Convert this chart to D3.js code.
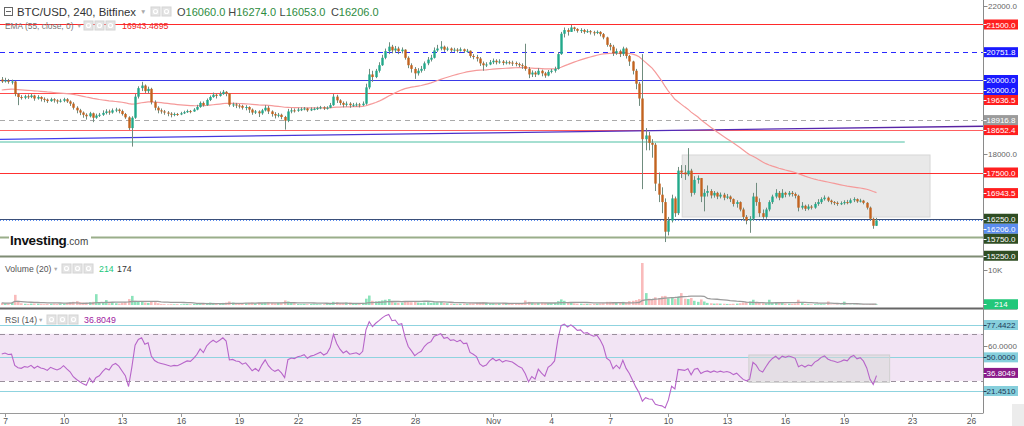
<!DOCTYPE html>
<html><head><meta charset="utf-8">
<script src="https://cdn.jsdelivr.net/npm/d3@7"></script>
<style>body{margin:0;background:#fff;overflow:hidden}svg{display:block;font-family:"Liberation Sans",Arial,sans-serif}</style>
</head><body><svg id="c" width="1024" height="426"></svg>
<script>
// ---------------- DATA ----------------
const firstCandle = "2022-10-06T20:00:00Z";   // 4h candles
const firstOpen = 20010;
const closes = [19960,
19990,19950,19960,19620,19540,19520, 19560,19540,19580,19500,19540,19490, 19470,19430,19480,19450,19420,19440,
19480,19420,19360,19250,19180,19120, 19060,19020,19100,18980,19040,19060, 19110,19150,19120,19180,19200,19160,
19080,18990,18700,18980,19550,19780, 19850,19700,19760,19400,19250,19180, 19150,19120,19090,19060,19080,19070,
19100,19130,19160,19150,19200,19270, 19380,19320,19460,19540,19600,19570, 19620,19680,19640,19330,19340,19310,
19300,19250,19270,19200,19120,19150, 19100,19180,19250,19150,19080,19040, 19060,19000,18900,19150,19180,19170,
19200,19210,19230,19180,19210,19220, 19240,19260,19230,19250,19320,19550, 19450,19380,19330,19360,19320,19330,
19340,19320,19360,19800,20150,20080, 20250,20400,20600,20780,20900,20800, 20850,20780,20820,20600,20400,20300,
20180,20250,20300,20450,20550,20600, 20800,20850,20900,20820,20850,20800, 20820,20790,20830,20780,20790,20650,
20620,20580,20450,20400,20420,20480, 20520,20480,20500,20460,20480,20470, 20460,20430,20400,20380,20300,20150,
20200,20150,20250,20180,20120,20220, 20250,20300,20700,21250,21350,21300, 21420,21380,21330,21350,21300,21320,
21290,21270,21300,21240,21150,20950, 20900,20720,20780,20700,20850,20650, 20500,20250,19900,19500,18400,18500,
18300,18250,17200,16900,16700,15900, 16200,16800,16400,17550,17500,17450, 17550,16950,17300,17350,16850,16950,
17000,16880,16950,16850,16900,16820, 16850,16780,16650,16700,16500,16300, 16200,16250,16850,16700,16400,16300,
16500,16700,16850,16950,16820,16950, 16900,16950,16920,16870,16550,16600, 16520,16580,16550,16650,16700,16780,
16820,16740,16700,16680,16650,16670, 16700,16680,16750,16780,16720,16740, 16680,16550,16250,16060,16206];
const highs = [20080,
20060,20030,20010,19980,19650,19590, 19600,19610,19620,19600,19590,19560, 19530,19500,19520,19510,19480,19490,
19520,19510,19450,19400,19290,19220, 19150,19100,19140,19120,19090,19110, 19180,19210,19200,19230,19250,19230,
19200,19110,19020,19020,19620,19830, 19950,19880,19820,19790,19450,19290, 19230,19190,19160,19130,19120,19110,
19140,19170,19200,19190,19240,19330, 19420,19420,19500,19580,19660,19640, 19690,19730,19700,19650,19390,19380,
19350,19330,19320,19290,19230,19190, 19180,19220,19320,19300,19180,19130, 19110,19090,19030,19220,19240,19230,
19250,19260,19270,19250,19260,19260, 19280,19300,19290,19290,19380,19620, 19600,19480,19420,19420,19400,19380,
19390,19380,19420,19900,20300,20250, 20300,20480,20680,20850,21020,20950, 20920,20900,20880,20830,20640,20450,
20350,20320,20380,20500,20620,20680, 20880,20950,21050,20930,20900,20880, 20870,20860,20880,20850,20840,20800,
20700,20680,20620,20500,20480,20540, 20580,20560,20560,20540,20530,20520, 20520,20500,20470,20450,20980,20350,
20260,20240,20320,20280,20220,20270, 20300,20360,20750,21300,21420,21400, 21490,21440,21400,21400,21380,21370,
21350,21330,21340,21320,21270,21170, 21000,20950,20850,20820,20900,20880, 20680,20520,20300,19950,20700,18700,
18600,18400,18300,17500,17100,16800, 16300,16900,16850,17650,17700,17700, 18160,17600,17400,17420,17350,17050,
17150,17050,17000,16980,16960,16950, 16920,16880,16800,16750,16720,16550, 16350,16320,16950,17220,16800,16500,
16550,16750,16900,17050,17000,17050, 16980,17000,17000,16960,16900,16700, 16630,16640,16620,16700,16780,16830,
16880,16850,16770,16730,16720,16720, 16750,16760,16800,16830,16800,16790, 16760,16700,16580,16280,16274];
const lows = [19920,
19930,19900,19880,19560,19320,19470, 19480,19490,19510,19440,19470,19420, 19400,19380,19410,19390,19360,19390,
19400,19380,19300,19200,19100,19050, 18980,18930,18990,18860,18950,19000, 19030,19070,19060,19090,19130,19100,
19040,18950,18650,18200,18950,19500, 19700,19650,19640,19340,19180,19100, 19090,19060,19020,18990,19020,19030,
19050,19080,19110,19100,19140,19180, 19250,19280,19300,19430,19520,19500, 19550,19600,19560,19280,19270,19240,
19230,19200,19180,19110,19060,19080, 19000,19060,19150,19080,19010,18960, 18990,18940,18660,18860,19100,19120,
19140,19160,19180,19140,19160,19180, 19190,19210,19190,19200,19240,19300, 19380,19320,19260,19280,19250,19270,
19280,19260,19300,19330,19750,19950, 20050,20200,20380,20560,20700,20720, 20730,20700,20720,20550,20320,20200,
20030,20120,20200,20250,20400,20500, 20580,20760,20800,20760,20780,20740, 20760,20740,20770,20730,20740,20600,
20560,20500,20380,20250,20350,20400, 20430,20420,20440,20400,20420,20420, 20380,20370,20350,20300,20250,20050,
20080,20080,20130,20100,20060,20100, 20180,20200,20280,20680,21150,21200, 21300,21320,21280,21270,21250,21270,
21230,21200,21240,21180,21100,20900, 20800,20650,20680,20620,20650,20580, 20380,20150,19750,19300,17050,18100,
18100,17900,17000,16700,16400,15620, 15800,16150,16300,16350,17350,17300, 17400,16850,16900,17200,16700,16450,
16850,16800,16820,16780,16800,16750, 16780,16700,16580,16550,16450,16200, 16100,15870,16200,16600,16300,16250,
16250,16450,16650,16800,16750,16800, 16830,16850,16850,16800,16450,16500, 16460,16480,16500,16520,16600,16650,
16740,16700,16640,16620,16600,16620, 16630,16640,16660,16700,16680,16690, 16640,16500,16200,15980,16053];
const volumes = [600,
500,450,600,2900,1200,500, 350,300,400,450,350,300, 250,300,350,400,300,350,
400,600,700,900,1100,800, 700,600,800,900,3100,700, 600,1400,500,600,500,400,
600,800,1700,2600,1200,900, 1100,700,600,900,800,500, 300,250,200,250,200,250,
200,250,300,250,300,400, 500,450,600,700,600,500, 500,600,700,1000,700,500,
400,400,500,600,700,500, 600,500,700,800,600,500, 600,700,1300,1000,700,500,
300,250,300,250,300,250, 250,200,250,300,400,900, 800,600,600,700,700,500,
500,400,600,1800,2700,1200, 1000,1100,1300,1500,1700,900, 700,600,700,900,1100,800,
900,700,600,700,800,600, 700,800,900,600,500,400, 300,300,350,400,350,500,
500,600,700,800,600,500, 500,400,500,600,500,400, 400,350,400,500,1300,900,
700,500,600,700,600,500, 500,600,1100,1600,1200,700, 800,500,400,400,350,300,
300,300,350,400,500,900, 900,800,600,700,900,700, 1100,1200,1400,1700,12000,3400,
1800,1500,2200,2000,2500,2600, 1900,2100,1700,2400,3400,1800, 1700,2000,1200,900,1600,1000,
600,500,400,450,400,350, 300,300,350,400,500,700, 800,1000,1500,900,600,500,
500,1500,700,600,500,800, 400,350,300,400,1500,600, 300,250,200,250,200,250,
200,1000,150,120,150,130, 950,120,100,120,100,120, 150,130,250,300,214];
const emaSeed = 19730;            // EMA(55) value at first candle
const rsiSeed = [74, 66];          // Wilder avg gain / avg loss at first candle
const emaLast = "16943.4895", rsiLast = 36.8049, volLast = "214", volMaLast = "174";
const ohlcText = ["16060.0", "16274.0", "16053.0", "16206.0"];

// horizontal levels drawn on the price pane
const levelPrices = [21500, 20751.8, 20000, 19636.5, 18916.8, 18652.4, 17500, 16250, 16206, 15750, 15250];
// extra price labels (second 20000 marker, ema)
const extraLabelPrices = [20000, 16943.5];
const priceTicks = [22000, 21000, 20000, 19000, 18000, 17000, 16000];
// sloped trend line anchors
const trendDates = ["2022-10-10T00:00:00Z", "2022-11-19T00:00:00Z"];
const trendPrices = [18419, 18700];
const tealLine = {price: 18324, end: "2022-11-22T12:00:00Z"};
const boxDates = ["2022-11-10T17:00:00Z", "2022-11-23T22:00:00Z"];
const boxPrices = [16297, 17973];
const rsiBoxDates = ["2022-11-14T03:00:00Z", "2022-11-21T11:00:00Z"];
const rsiBoxValues = [28.8, 52];
const rsiLevels = [77.4422, 50, 21.451];
const rsiBand = [30, 70];
const rsiTicks = [80, 60, 40, 20];
const volTicks = [10000];
const xTickDates = ["2022-10-07","2022-10-10","2022-10-13","2022-10-16","2022-10-19","2022-10-22","2022-10-25","2022-10-28",
  "2022-11-01","2022-11-04","2022-11-07","2022-11-10","2022-11-13","2022-11-16","2022-11-19","2022-11-23","2022-11-26"];
const xTickLabels = ["7","10","13","16","19","22","25","28","Nov","4","7","10","13","16","19","23","26"];

// ---------------- DERIVED ----------------
const t0 = new Date(firstCandle).getTime(), H4 = 4*3600*1000;
const candles = closes.map((c,i)=>{
  const o = i===0 ? firstOpen : closes[i-1];
  return {t:new Date(t0+i*H4), o, c, h:Math.max(highs[i],o,c), l:Math.min(lows[i],o,c), v:volumes[i]};
});
const k = 2/56; let e = emaSeed;
const ema = candles.map((d,i)=>{ if(i>0) e = e + k*(d.c-e); return e; });
let ag = rsiSeed[0], al = rsiSeed[1];
const rsi = candles.map((d,i)=>{ if(i>0){const ch=d.c-closes[i-1]; ag=(ag*13+Math.max(ch,0))/14; al=(al*13+Math.max(-ch,0))/14;} return 100-100/(1+ag/al); });
const volMa = volumes.map((v,i)=> d3.mean(volumes.slice(Math.max(0,i-19), i+1)));

// ---------------- SCALES ----------------
const D = s => new Date(s);
const x = d3.scaleUtc()
  .domain([D("2022-10-07T00:00:00Z"), D("2022-11-21T00:00:00Z"), D("2022-11-23T00:00:00Z"), D("2022-11-26T00:00:00Z")])
  .range([5, 883, 912, 971]);
const y = d3.scaleLinear().domain([18000, 21000]).range([154, 43]);
const yv = d3.scaleLinear().domain([0, 10000]).range([305, 270]);
const yr = d3.scaleLinear().domain([21.451, 77.4422]).range([391, 325]);
const AX = 983.5;

const svg = d3.select("#c");
const defs = svg.append("defs");
defs.append("clipPath").attr("id","cp").append("rect").attr("x",0).attr("y",0).attr("width",983).attr("height",255);
defs.append("clipPath").attr("id","cv").append("rect").attr("x",0).attr("y",258).attr("width",983).attr("height",49);
defs.append("clipPath").attr("id","cr").append("rect").attr("x",0).attr("y",310).attr("width",983).attr("height",103);

// ---------------- PRICE PANE ----------------
const gp = svg.append("g").attr("clip-path","url(#cp)");
gp.append("rect").attr("x",x(D(boxDates[0]))).attr("width",x(D(boxDates[1]))-x(D(boxDates[0])))
  .attr("y",y(boxPrices[1])).attr("height",y(boxPrices[0])-y(boxPrices[1]))
  .attr("fill","#e3e3e3").attr("fill-opacity",0.8).attr("stroke","#d6d6d6");

const levelStyle = [
  {c:"#ff2a2a",w:1,d:null},{c:"#2a2aff",w:1,d:"5,4"},{c:"#3a3ae8",w:1,d:null},{c:"#ff4a4a",w:1,d:null},
  {c:"#aaaaaa",w:1,d:"5,4"},{c:"#ff6060",w:1.2,d:null},{c:"#ff3030",w:1,d:null},{c:"#3a4f7a",w:1,d:null},
  {c:"#5b8def",w:1,d:"1,2"},{c:"#9aae8a",w:2,d:null},{c:"#56704a",w:1,d:null}];
levelPrices.forEach((p,i)=>{
  const s=levelStyle[i];
  gp.append("line").attr("x1",0).attr("x2",AX).attr("y1",Math.round(y(p))+0.5).attr("y2",Math.round(y(p))+0.5)
    .attr("stroke",s.c).attr("stroke-width",s.w).attr("stroke-dasharray",s.d);
});
gp.append("line").attr("x1",0).attr("x2",x(D(tealLine.end))).attr("y1",y(tealLine.price)).attr("y2",y(tealLine.price))
  .attr("stroke","#4dbfa3").attr("stroke-width",1);
{
  const xa=x(D(trendDates[0])), xb=x(D(trendDates[1])), ya=y(trendPrices[0]), yb=y(trendPrices[1]);
  const sl=(yb-ya)/(xb-xa);
  const grad = defs.append("linearGradient").attr("id","tg").attr("x1","0%").attr("x2","100%");
  grad.append("stop").attr("offset","0%").attr("stop-color","#3f3ff0");
  grad.append("stop").attr("offset","100%").attr("stop-color","#5a22a0");
  gp.append("line").attr("x1",0).attr("y1",ya-sl*xa).attr("x2",AX).attr("y2",ya+sl*(AX-xa))
    .attr("stroke","url(#tg)").attr("stroke-width",1.3);
}
gp.append("path").datum(candles).attr("fill","none").attr("stroke","#f59a9a").attr("stroke-width",1.2)
  .attr("d", d3.line().x(d=>x(d.t)).y((d,i)=>y(ema[i])));
const up="#22a98a", dn="#c2631f";
const cg = gp.append("g");
cg.selectAll("line").data(candles).join("line")
  .attr("x1",d=>Math.round(x(d.t))+0.5).attr("x2",d=>Math.round(x(d.t))+0.5)
  .attr("y1",d=>y(d.h)).attr("y2",d=>y(d.l)).attr("stroke","#6f8c7e").attr("stroke-width",1);
cg.selectAll("rect").data(candles).join("rect")
  .attr("x",d=>Math.round(x(d.t))-0.7).attr("width",2.4)
  .attr("y",d=>y(Math.max(d.o,d.c))).attr("height",d=>Math.max(1,Math.abs(y(d.o)-y(d.c))))
  .attr("fill",d=>d.c>=d.o?up:dn);

svg.append("rect").attr("x",9).attr("y",232).attr("width",82).attr("height",15).attr("fill","#fff");
const logo = svg.append("text").attr("x",10).attr("y",245);
logo.append("tspan").text("Investing").attr("font-size",13.5).attr("font-weight","bold").attr("fill","#111").attr("letter-spacing","-0.3");
logo.append("tspan").text(".com").attr("font-size",10).attr("fill","#444");

// ---------------- VOLUME PANE ----------------
const gv = svg.append("g").attr("clip-path","url(#cv)");
gv.selectAll("rect").data(candles).join("rect")
  .attr("x",d=>Math.round(x(d.t))-1).attr("width",2.6)
  .attr("y",d=>yv(d.v)).attr("height",d=>yv(0)-yv(d.v))
  .attr("fill",d=>d.c>=d.o?"#3fd08e":"#f58d8d").attr("fill-opacity",0.6);
gv.append("path").datum(candles).attr("fill","none").attr("stroke","#9c9c9c").attr("stroke-width",1.3)
  .attr("d", d3.line().x(d=>x(d.t)).y((d,i)=>yv(volMa[i])));

// ---------------- RSI PANE ----------------
const gr = svg.append("g").attr("clip-path","url(#cr)");
gr.append("rect").attr("x",0).attr("width",AX).attr("y",yr(rsiBand[1])).attr("height",yr(rsiBand[0])-yr(rsiBand[1])).attr("fill","#f2e4f4");
rsiLevels.forEach(v=>gr.append("line").attr("x1",0).attr("x2",AX).attr("y1",Math.round(yr(v))+0.5).attr("y2",Math.round(yr(v))+0.5).attr("stroke","#8fd3df").attr("stroke-width",1));
rsiBand.forEach(v=>gr.append("line").attr("x1",0).attr("x2",AX).attr("y1",Math.round(yr(v))+0.5).attr("y2",Math.round(yr(v))+0.5).attr("stroke","#9a8f9c").attr("stroke-dasharray","5,4"));
gr.append("rect").attr("x",x(D(rsiBoxDates[0]))).attr("width",x(D(rsiBoxDates[1]))-x(D(rsiBoxDates[0])))
  .attr("y",yr(rsiBoxValues[1])).attr("height",yr(rsiBoxValues[0])-yr(rsiBoxValues[1]))
  .attr("fill","#d8d8d8").attr("fill-opacity",0.55).attr("stroke","#cfcfcf");
gr.append("path").datum(candles).attr("fill","none").attr("stroke","#b765c9").attr("stroke-width",1.1)
  .attr("d", d3.line().x(d=>x(d.t)).y((d,i)=>yr(rsi[i])));

// ---------------- SEPARATORS / AXES ----------------
svg.append("line").attr("x1",0).attr("x2",1017).attr("y1",256.5).attr("y2",256.5).attr("stroke","#7f8c74").attr("stroke-width",2);
svg.append("line").attr("x1",0).attr("x2",1017).attr("y1",308.5).attr("y2",308.5).attr("stroke","#666").attr("stroke-width",2);
svg.append("line").attr("x1",AX).attr("x2",AX).attr("y1",0).attr("y2",413).attr("stroke","#8a8a8a");
svg.append("line").attr("x1",0).attr("x2",AX).attr("y1",413.5).attr("y2",413.5).attr("stroke","#9a9a9a");
svg.append("rect").attr("x",1012).attr("y",404).attr("width",12).attr("height",22).attr("fill","#ececec");

const xt = svg.append("g");
xTickDates.forEach((s,i)=>{
  const xx = Math.round(x(D(s+"T00:00:00Z")))+0.5;
  xt.append("line").attr("x1",xx).attr("x2",xx).attr("y1",413).attr("y2",417).attr("stroke","#999");
  xt.append("text").attr("x",xx).attr("y",424).attr("text-anchor","middle").attr("font-size",8.5).attr("fill","#555").text(xTickLabels[i]);
});

// ---- label boxes (positions resolved first) ----
const boxes = [
  {p:levelPrices[0], f:"#ff1f1f"}, {p:levelPrices[1], f:"#1a1aff"}, {p:levelPrices[2], f:"#1a1aff"}, {p:extraLabelPrices[0], f:"#1a1aff"},
  {p:levelPrices[3], f:"#ff1f1f"}, {p:levelPrices[4], f:"#9b9b9b"}, {p:levelPrices[5], f:"#ff1f1f"}, {p:levelPrices[6], f:"#ff1f1f"},
  {p:extraLabelPrices[1], f:"#ff1f1f"}, {p:levelPrices[7], f:"#2f4d23"}, {p:levelPrices[8], f:"#5b8def"},
  {p:levelPrices[9], f:"#2f4d23"}, {p:levelPrices[10], f:"#2f4d23"}];
const boxList = [];
let lastY = -100;
boxes.forEach(b=>{
  let yy = y(b.p); if (yy < lastY+10) yy = lastY+10; lastY = yy;
  boxList.push({y:yy, label:b.p.toFixed(1), f:b.f, tc:"#fff"});
});
boxList.push({y:yv(+volLast), label:volLast, f:"#22c77a", tc:"#fff"});
rsiLevels.forEach(v=>boxList.push({y:yr(v), label:v.toFixed(4), f:"#86cfdc", tc:"#1d3a5a"}));
boxList.push({y:yr(rsiLast), label:rsiLast.toFixed(4), f:"#8a1a8a", tc:"#fff"});

function tick(yy, label){
  if (boxList.some(b=>Math.abs(b.y-yy)<10)) return;   // hidden under a marker label
  svg.append("line").attr("x1",AX).attr("x2",AX+4).attr("y1",Math.round(yy)+0.5).attr("y2",Math.round(yy)+0.5).attr("stroke","#888");
  svg.append("text").attr("x",988).attr("y",yy+3).attr("font-size",8).attr("fill","#666").text(label);
}
priceTicks.forEach(p=>tick(y(p), p.toFixed(1)));
volTicks.forEach(v=>tick(yv(v), (v/1000)+"K"));
rsiTicks.forEach(v=>tick(yr(v), v.toFixed(4)));

boxList.forEach(b=>{
  const g = svg.append("g");
  g.append("rect").attr("x",984).attr("y",b.y-5).attr("width",34).attr("height",10).attr("fill",b.f);
  g.append("line").attr("x1",AX).attr("x2",AX+3).attr("y1",Math.round(b.y)+0.5).attr("y2",Math.round(b.y)+0.5).attr("stroke",b.tc);
  g.append("text").attr("x",1001).attr("y",b.y+3).attr("text-anchor","middle").attr("font-size",8).attr("fill",b.tc).text(b.label);
});

// ---------------- LEGENDS ----------------
function icons(x0, y0, n){
  for(let i=0;i<n;i++){
    svg.append("rect").attr("x",x0+i*11).attr("y",y0).attr("width",9).attr("height",9).attr("fill","#e4e4e4").attr("stroke","#d4d4d4");
    svg.append("circle").attr("cx",x0+i*11+4.5).attr("cy",y0+4.5).attr("r",2).attr("fill","none").attr("stroke","#fff").attr("stroke-width",1.2);
  }
}
svg.append("rect").attr("x",4.5).attr("y",7.5).attr("width",8).attr("height",8).attr("fill","none").attr("stroke","#666");
svg.append("line").attr("x1",6).attr("x2",11).attr("y1",11.5).attr("y2",11.5).attr("stroke","#666");
svg.append("text").attr("x",17).attr("y",16).attr("font-size",11.4).attr("fill","#333").text("BTC/USD, 240, Bitfinex");
svg.append("text").attr("x",140).attr("y",14).attr("font-size",6.5).attr("fill","#aaa").text("▼");
icons(151, 7, 2);
["O","H","L","C"].forEach((s,i)=>{
  const t = svg.append("text").attr("x",177+i*51.3).attr("y",16).attr("font-size",11);
  t.append("tspan").attr("fill","#444").text(s);
  t.append("tspan").attr("fill","#2e8b3e").text(ohlcText[i]);
});
svg.append("text").attr("x",5).attr("y",29).attr("font-size",8.4).attr("fill","#777").text("EMA (55, close, 0)");
svg.append("text").attr("x",76.5).attr("y",28).attr("font-size",5.5).attr("fill","#aaa").text("▼");
icons(84, 21, 3);
svg.append("text").attr("x",122).attr("y",29).attr("font-size",8.8).attr("fill","#f02828").text(emaLast);
svg.append("text").attr("x",5).attr("y",272).attr("font-size",8.6).attr("fill","#555").text("Volume (20)");
svg.append("text").attr("x",53).attr("y",271).attr("font-size",5.5).attr("fill","#aaa").text("▼");
icons(62, 264, 3);
svg.append("text").attr("x",99).attr("y",272).attr("font-size",8.8).attr("fill","#22c77a").text(volLast);
svg.append("text").attr("x",117).attr("y",272).attr("font-size",8.8).attr("fill","#333").text(volMaLast);
svg.append("text").attr("x",5).attr("y",323).attr("font-size",8.6).attr("fill","#555").text("RSI (14)");
svg.append("text").attr("x",38).attr("y",322).attr("font-size",5.5).attr("fill","#aaa").text("▼");
icons(47, 315, 3);
svg.append("text").attr("x",84).attr("y",323).attr("font-size",8.8).attr("fill","#a021a0").text(rsiLast.toFixed(4));
</script></body></html>
